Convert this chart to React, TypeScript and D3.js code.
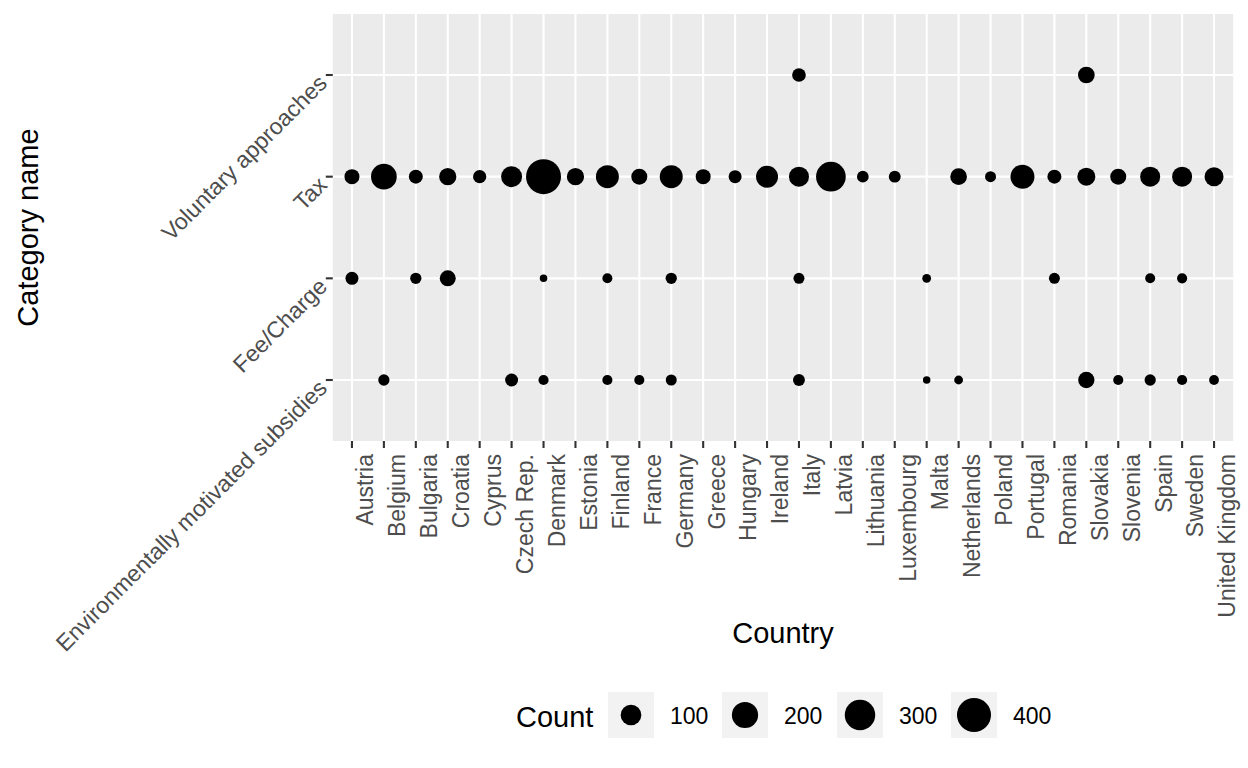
import React from "react";
import * as d3 from "d3";

const countries = [
  "Austria", "Belgium", "Bulgaria", "Croatia", "Cyprus", "Czech Rep.", "Denmark",
  "Estonia", "Finland", "France", "Germany", "Greece", "Hungary", "Ireland", "Italy",
  "Latvia", "Lithuania", "Luxembourg", "Malta", "Netherlands", "Poland", "Portugal",
  "Romania", "Slovakia", "Slovenia", "Spain", "Sweden", "United Kingdom",
];

// top to bottom
const categories = ["Voluntary approaches", "Tax", "Fee/Charge", "Environmentally motivated subsidies"];

type V = number | null;
const voluntaryCounts: V[] = [null, null, null, null, null, null, null, null, null, null, null, null, null, null, 23,
  null, null, null, null, null, null, null, null, 49, null, null, null, null];
const taxCounts: V[] = [33, 189, 25, 55, 20, 104, 430, 55, 137, 42, 137, 33, 18, 120, 90,
  280, 11, 12, null, 49, 8, 155, 25, 64, 42, 90, 90, 76];
const feeCounts: V[] = [18, null, 9, 42, null, null, 1, null, 4.5, null, 9, null, null, null, 8,
  null, null, null, 2, null, null, null, 8, null, null, 4.5, 5, null];
const subsidyCounts: V[] = [null, 9, null, null, null, 18, 5, null, 5, 5, 8, null, null, null, 12,
  null, null, null, 1, 2, null, null, null, 45, 5, 9, 5, 4];

const seriesByCategory: V[][] = [voluntaryCounts, taxCounts, feeCounts, subsidyCounts];
const legendBreaks = [100, 200, 300, 400];

const W = 1248, H = 768;
const panel = { left: 332.8, right: 1233.2, top: 14, bottom: 441 };
const FONT = "'Liberation Sans', Arial, Helvetica, sans-serif";
const AX = 23;
const TT = 29;

export default function App() {
  const x = d3.scalePoint<string>().domain(countries).range([panel.left, panel.right]).padding(0.6);
  const y = d3.scalePoint<string>().domain(categories).range([panel.top, panel.bottom]).padding(0.6);

  const all: number[] = [];
  seriesByCategory.forEach((s) => s.forEach((v) => { if (v != null) all.push(v); }));
  const ext = d3.extent(all) as [number, number];
  const rescale = d3.scaleLinear().domain(ext).range([0, 1]).clamp(true);
  const rad = d3.scaleSqrt().domain([0, 1]).range([3.75, 17.5]);
  const r = (v: number) => rad(rescale(v));

  const points: { c: string; k: string; v: number }[] = [];
  seriesByCategory.forEach((s, ci) => s.forEach((v, i) => {
    if (v != null) points.push({ c: countries[i], k: categories[ci], v });
  }));

  const legendKeyX = [608, 722, 837, 951];

  return (
    <svg width={W} height={H} style={{ position: "absolute", left: 0, top: 0, background: "#fff" }}
      fontFamily={FONT}>
      <rect x={panel.left} y={panel.top} width={panel.right - panel.left} height={panel.bottom - panel.top} fill="#EBEBEB" />
      {countries.map((c) => (
        <line key={"gx" + c} x1={x(c)} x2={x(c)} y1={panel.top} y2={panel.bottom} stroke="#fff" strokeWidth={2.1} />
      ))}
      {categories.map((k) => (
        <line key={"gy" + k} x1={panel.left} x2={panel.right} y1={y(k)} y2={y(k)} stroke="#fff" strokeWidth={2.1} />
      ))}
      {points.map((p, i) => (
        <circle key={i} cx={x(p.c)} cy={y(p.k)} r={r(p.v)} fill="#000" />
      ))}
      {/* x ticks & labels */}
      {countries.map((c) => (
        <g key={"tx" + c}>
          <line x1={x(c)} x2={x(c)} y1={panel.bottom} y2={panel.bottom + 7} stroke="#333" strokeWidth={2.1} />
          <text transform={`translate(${x(c)},${panel.bottom + 13}) rotate(-90)`} textAnchor="end"
            dy="0.93em" fontSize={AX} fill="#4D4D4D">{c}</text>
        </g>
      ))}
      {/* y ticks & labels */}
      {categories.map((k) => (
        <g key={"ty" + k}>
          <line x1={panel.left - 7} x2={panel.left} y1={y(k)} y2={y(k)} stroke="#333" strokeWidth={2.1} />
          <text transform={`translate(${panel.left - 10},${(y(k) as number) + 4}) rotate(-45)`} textAnchor="end"
            dominantBaseline="central" fontSize={AX} fill="#4D4D4D">{k}</text>
        </g>
      ))}
      <text x={(panel.left + panel.right) / 2} y={643} textAnchor="middle" fontSize={TT} fill="#000">Country</text>
      <text transform={`translate(38,${(panel.top + panel.bottom) / 2}) rotate(-90)`} textAnchor="middle"
        fontSize={TT} fill="#000">Category name</text>
      {/* legend */}
      <text x={516} y={727} fontSize={TT} fill="#000">Count</text>
      {legendBreaks.map((b, i) => (
        <g key={"lg" + b}>
          <rect x={legendKeyX[i]} y={692} width={46} height={46} fill="#F2F2F2" />
          <circle cx={legendKeyX[i] + 23} cy={715} r={r(b)} fill="#000" />
          <text x={legendKeyX[i] + 62} y={716} dominantBaseline="central" fontSize={AX} fill="#000">{b}</text>
        </g>
      ))}
    </svg>
  );
}
